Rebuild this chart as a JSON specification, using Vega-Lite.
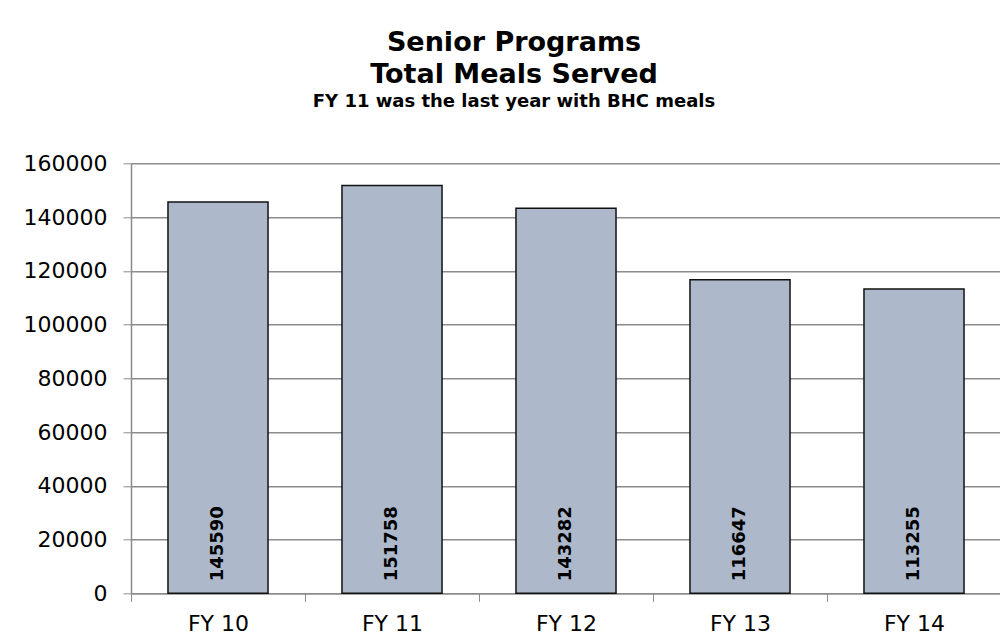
{
  "$schema": "https://vega.github.io/schema/vega-lite/v6.json",
  "width": 870,
  "height": 430,
  "autosize": {"type": "none"},
  "padding": {"left": 131, "top": 163.3, "right": 0, "bottom": 42.7},
  "background": "white",
  "title": {
    "text": ["Senior Programs", "Total Meals Served"],
    "subtitle": "FY 11 was the last year with BHC meals",
    "anchor": "middle",
    "frame": "group",
    "dx": -52,
    "offset": 40,
    "font": "DejaVu Sans",
    "fontSize": 27,
    "fontWeight": "bold",
    "lineHeight": 32,
    "color": "black",
    "subtitleFont": "DejaVu Sans",
    "subtitleFontSize": 18,
    "subtitleFontWeight": "bold",
    "subtitleColor": "black",
    "subtitlePadding": 4
  },
  "data": {
    "values": [
      {"year": "FY 10", "meals": 145590},
      {"year": "FY 11", "meals": 151758},
      {"year": "FY 12", "meals": 143282},
      {"year": "FY 13", "meals": 116647},
      {"year": "FY 14", "meals": 113255}
    ]
  },
  "encoding": {
    "x": {
      "field": "year",
      "type": "nominal",
      "sort": null,
      "scale": {"paddingInner": 0, "paddingOuter": 0},
      "axis": {
        "title": null,
        "labelAngle": 0,
        "labelFont": "DejaVu Sans",
        "labelFontSize": 22,
        "labelColor": "black",
        "labelPadding": 12,
        "tickBand": "extent",
        "tickSize": 8,
        "tickColor": "#8c8c8c",
        "domainColor": "#8c8c8c",
        "domainWidth": 1.5,
        "grid": false
      }
    },
    "y": {
      "field": "meals",
      "type": "quantitative",
      "scale": {"domain": [0, 160000], "nice": false},
      "axis": {
        "title": null,
        "values": [0, 20000, 40000, 60000, 80000, 100000, 120000, 140000, 160000],
        "format": "d",
        "labelFont": "DejaVu Sans",
        "labelFontSize": 22,
        "labelColor": "black",
        "labelPadding": 16,
        "tickSize": 8,
        "tickColor": "#8c8c8c",
        "domainColor": "#8c8c8c",
        "domainWidth": 1.5,
        "gridColor": "#8c8c8c",
        "gridWidth": 1.5
      }
    }
  },
  "layer": [
    {
      "mark": {"type": "bar", "width": {"band": 0.575}, "fill": "#adb8cb", "stroke": "#111111", "strokeWidth": 1.5}
    },
    {
      "mark": {
        "type": "text",
        "angle": 270,
        "align": "left",
        "baseline": "middle",
        "dx": 12,
        "font": "DejaVu Sans",
        "fontSize": 18,
        "fontWeight": "bold",
        "color": "black"
      },
      "encoding": {
        "y": {"datum": 0, "type": "quantitative"},
        "text": {"field": "meals", "type": "quantitative", "format": "d"}
      }
    }
  ],
  "config": {"view": {"stroke": null}}
}
